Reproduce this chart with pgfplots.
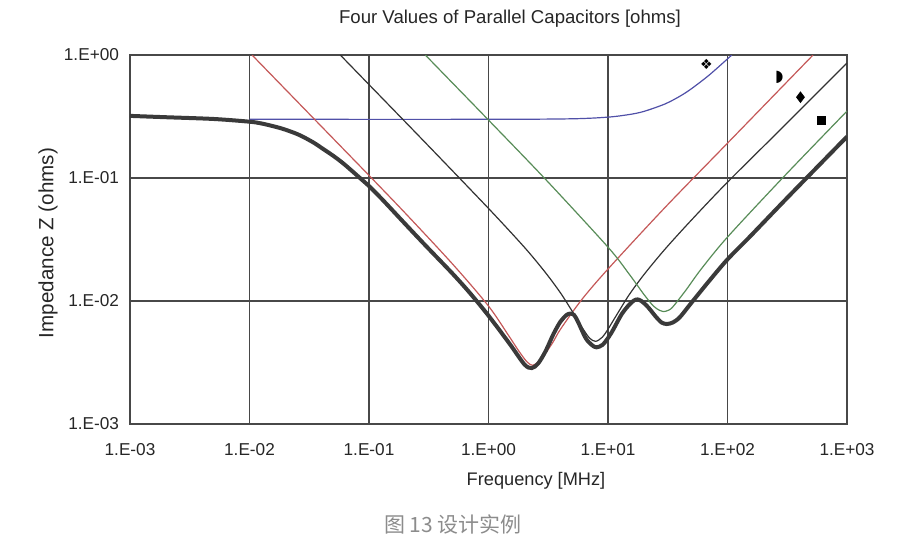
\documentclass[border=0pt]{standalone}
\usepackage{fontspec}
\setmainfont{Liberation Sans}
\newfontfamily\dejavu{DejaVu Sans}
\newfontfamily\cjk{Noto Sans CJK SC}
\usepackage{pgfplots}
\pgfplotsset{compat=1.18}
\definecolor{gridc}{RGB}{72,72,72}
\definecolor{thickc}{RGB}{58,58,58}
\definecolor{redc}{RGB}{196,88,88}
\definecolor{greenc}{RGB}{88,140,88}
\definecolor{bluec}{RGB}{80,80,168}
\definecolor{blackc}{RGB}{50,50,50}
\begin{document}
\begin{tikzpicture}
\useasboundingbox (0,0) rectangle (450pt,268.5pt);
\begin{axis}[
  at={(65pt,56.5pt)}, anchor=south west,
  scale only axis, width=358.5pt, height=184.5pt,
  xmode=log, ymode=log,
  xmin=1e-3, xmax=1e3, ymin=1e-3, ymax=1,
  xtick={1e-3,1e-2,1e-1,1,10,100,1000},
  xticklabels={1.E-03,1.E-02,1.E-01,1.E+00,1.E+01,1.E+02,1.E+03},
  ytick={1e-3,1e-2,1e-1,1},
  yticklabels={1.E-03,1.E-02,1.E-01,1.E+00},
  minor xtick={}, minor ytick={},
  major tick length=0pt, minor tick length=0pt,
  grid=major, major grid style={gridc, line width=0.6pt},
  axis line style={gridc, line width=0.8pt},
  tick label style={font=\fontsize{8.6}{10}\selectfont, text=black!85},
  xticklabel style={yshift=-6pt},
  yticklabel style={xshift=-2pt},
]
% blue
\addplot[bluec, line width=0.6pt, smooth] coordinates {
(0.01,0.300) (1,0.300) (5,0.303) (10,0.3126) (15,0.328) (20,0.348) (30,0.400) (40,0.4625) (50,0.5325) (70,0.685) (100,0.930) (108.5,1.0)};
% red
\addplot[redc, line width=0.6pt, smooth] coordinates {
(0.0105,1.0) (0.02,0.525) (0.05,0.21) (0.1,0.105) (0.2,0.0521) (0.5,0.0200) (1,0.0091) (1.5,0.0051) (1.8,0.0039) (2.1,0.0032) (2.34,0.0030) (2.6,0.0032) (3,0.00376) (3.5,0.0047) (4,0.00589) (6,0.0102) (10,0.0182) (30,0.0576) (100,0.192) (520,1.0)};
% black thin
\addplot[blackc, line width=0.6pt, smooth] coordinates {
(0.0575,1.0) (0.1,0.575) (0.3,0.1914) (1,0.0566) (2,0.0273) (3,0.0170) (4,0.01165) (5,0.0083) (6,0.0062) (7,0.0050) (7.9,0.0047) (9,0.0051) (10,0.0059) (12,0.0079) (15,0.0112) (20,0.0164) (30,0.0264) (50,0.0456) (100,0.0925) (300,0.267) (1000,0.86)};
% green
\addplot[greenc, line width=0.6pt, smooth] coordinates {
(0.296,1.0) (0.5,0.592) (1,0.296) (3,0.0976) (10,0.0274) (15,0.0166) (20,0.0113) (24,0.0091) (27,0.0084) (29,0.0082) (32,0.0084) (35,0.0090) (45,0.0123) (60,0.0181) (100,0.0331) (300,0.104) (1000,0.35)};
% thick total
\addplot[thickc, line width=2pt, smooth, tension=0.5] coordinates {
(0.001,0.320) (0.002,0.312) (0.005,0.302) (0.01,0.287) (0.0125,0.278) (0.015,0.267) (0.0175,0.257) (0.02,0.247) (0.025,0.228) (0.03,0.209) (0.035,0.192) (0.04,0.176) (0.05,0.152) (0.06,0.133) (0.07,0.117) (0.085,0.099) (0.1,0.086) (0.13,0.0665) (0.2,0.0425) (0.3,0.0280) (0.5,0.0167) (0.7,0.0116) (1,0.0076) (1.5,0.0045) (2,0.00305) (2.3,0.00285) (2.6,0.0031) (3,0.0039) (3.5,0.0054) (4,0.0068) (4.5,0.0077) (4.85,0.0079) (5.2,0.0077) (5.6,0.0068) (6.5,0.0050) (7.3,0.0044) (8,0.0042) (9,0.0044) (10,0.0050) (11,0.0058) (13,0.0078) (15,0.0093) (16.5,0.0101) (17.7,0.0103) (19,0.0100) (21,0.0092) (23,0.0083) (25,0.0075) (28,0.0067) (31,0.0065) (35,0.0067) (40,0.0074) (50,0.0097) (70,0.0145) (100,0.0218) (150,0.0325) (300,0.0655) (500,0.109) (1000,0.217)};
% curve markers
\addplot[only marks, mark=text, text mark={❖}, text mark style={font=\dejavu\fontsize{7}{7}\selectfont}, text mark as node] coordinates {(66.7,0.845)};
\addplot[only marks, mark=text, text mark={◗}, text mark style={font=\dejavu\fontsize{8}{8}\selectfont}, text mark as node] coordinates {(272,0.655)};
\addplot[only marks, mark=diamond*, mark size=2.6pt, black] coordinates {(408,0.454)};
\addplot[only marks, mark=square*, mark size=2pt, black] coordinates {(610,0.294)};
\end{axis}
\node[font=\fontsize{9.3}{11}\selectfont, text=black!85] at (255pt,259pt) {Four Values of Parallel Capacitors [ohms]};
\node[font=\fontsize{9.1}{11}\selectfont, text=black!85] at (268pt,28pt) {Frequency [MHz]};
\node[font=\fontsize{10.3}{12}\selectfont, text=black!85, rotate=90] at (24pt,147pt) {Impedance Z (ohms)};
\node[font=\cjk\fontsize{10.5}{12}\selectfont, text=black!45] at (226.5pt,6.5pt) {图 13 设计实例};
\end{tikzpicture}
\end{document}
